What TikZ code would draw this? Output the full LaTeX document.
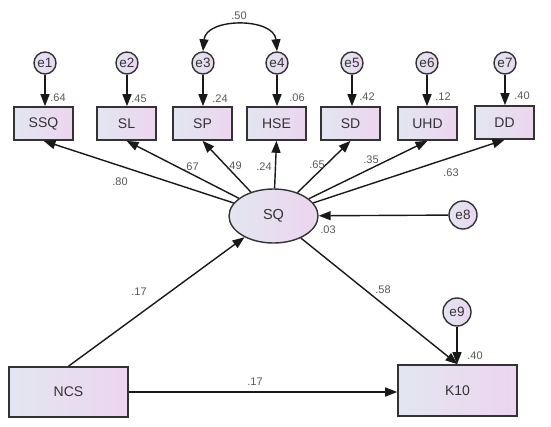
\documentclass[tikz,border=0pt]{standalone}
\usepackage{fontspec}
\setmainfont{Liberation Sans}
\usetikzlibrary{arrows.meta,shapes.geometric}
\definecolor{boxL}{HTML}{E3E6F0}
\definecolor{boxR}{HTML}{ECD5F0}
\begin{document}
\begin{tikzpicture}[x=1pt,y=-1pt,
  obs/.style={draw=black!80, line width=1.6pt, left color=boxL, right color=boxR,
    minimum width=59pt, minimum height=33pt, inner sep=0pt,
    font=\fontsize{14}{14}\selectfont, text=black!80},
  err/.style={circle, draw=black!80, line width=1.4pt, left color=boxL, right color=boxR,
    minimum size=22pt, inner sep=0pt, font=\fontsize{13.5}{14}\selectfont, text=black!80},
  lat/.style={ellipse, draw=black!80, line width=1.4pt, left color=boxL, right color=boxR,
    minimum width=89pt, minimum height=54pt, inner sep=0pt,
    font=\fontsize{14.5}{15}\selectfont, text=black!80},
  path/.style={draw=black!90, line width=1.4pt, -{Triangle[length=12pt,width=9pt]}},
  coef/.style={font=\fontsize{11}{11}\selectfont, text=black!65, inner sep=0pt}
]
\useasboundingbox[fill=white] (0,0) rectangle (551,426);

% error terms
\node[err] (e1) at (45,63) {e1};
\node[err] (e2) at (127,63) {e2};
\node[err] (e3) at (203,63) {e3};
\node[err] (e4) at (277,63) {e4};
\node[err] (e5) at (352,63) {e5};
\node[err] (e6) at (427,63) {e6};
\node[err] (e7) at (505,63) {e7};

% observed
\node[obs] (SSQ) at (43.5,123.5) {SSQ};
\node[obs] (SL) at (126.5,123.5) {SL};
\node[obs] (SP) at (202.5,123.5) {SP};
\node[obs] (HSE) at (276.5,123.5) {HSE};
\node[obs] (SD) at (350.5,123.5) {SD};
\node[obs] (UHD) at (427.5,123.5) {UHD};
\node[obs] (DD) at (504.5,122.5) {DD};

% latent
\node[lat] (SQ) at (273.5,216) {SQ};
\node[err, minimum size=28pt] (e8) at (463,215) {e8};

\node[obs, minimum width=119pt, minimum height=50pt] (NCS) at (68.5,392) {NCS};
\node[obs, minimum width=119pt, minimum height=51pt] (K10) at (457.5,390.5) {K10};
\node[err, minimum size=28pt] (e9) at (457,312) {e9};

% error arrows
\foreach \e/\b in {e1/SSQ,e2/SL,e3/SP,e4/HSE,e5/SD,e6/UHD,e7/DD}
  \draw[path] (\e) -- (\e |- \b.north);
\draw[path] (e9) -- (e9 |- K10.north);
\draw[path] (e8) -- (SQ);

% covariance
\draw[draw=black!90, line width=1.4pt, {Triangle[length=12pt,width=9pt]}-{Triangle[length=12pt,width=9pt]}]
  (e3.north) .. controls +(3,-34) and +(-3,-34) .. (e4.north);

% loadings
\foreach \b in {SSQ,SL,SP,HSE,SD,UHD,DD}
  \draw[path] (SQ) -- (\b.south);

% structural
\draw[path] (NCS.north) -- (SQ);
\draw[path] (SQ) -- (K10.north);
\draw[path] (NCS.east) -- (NCS.east -| K10.west);

% coefficients
\node[coef] (c1) at (58,98) {.64};
\node[coef] (c2) at (139,99) {.45};
\node[coef] (c3) at (220,99) {.24};
\node[coef] (c4) at (297,98) {.06};
\node[coef] (c5) at (367,97) {.42};
\node[coef] (c6) at (443,97) {.12};
\node[coef] (c7) at (522,96) {.40};
\node[coef] (c8) at (239,16) {.50};
\node[coef] (l1) at (120,182) {.80};
\node[coef] (l2) at (191,167) {.67};
\node[coef] (l3) at (234,166) {.49};
\node[coef] (l4) at (264,167) {.24};
\node[coef] (l5) at (317,165) {.65};
\node[coef] (l6) at (371,160) {.35};
\node[coef] (l7) at (451,173) {.63};
\node[coef] (r8) at (328,230) {.03};
\node[coef] (s1) at (139,292) {.17};
\node[coef] (s2) at (383,290) {.58};
\node[coef] (s3) at (255,382) {.17};
\node[coef] (r9) at (475,356) {.40};
\end{tikzpicture}
\end{document}
